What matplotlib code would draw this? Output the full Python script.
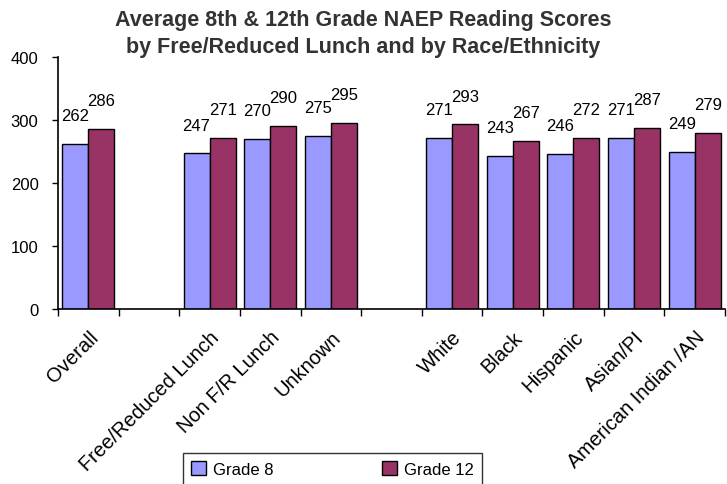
import numpy as np
import matplotlib
matplotlib.use("Agg")
import matplotlib.pyplot as plt
from matplotlib.patches import Patch

plt.rcParams['font.family'] = ['Liberation Sans', 'DejaVu Sans']

# ---- data ----
categories = ["Overall", "", "Free/Reduced Lunch", "Non F/R Lunch", "Unknown", "",
              "White", "Black", "Hispanic", "Asian/PI", "American Indian /AN"]
grade8 = [262, np.nan, 247, 270, 275, np.nan, 271, 243, 246, 271, 249]
grade12 = [286, np.nan, 271, 290, 295, np.nan, 293, 267, 272, 287, 279]
series_names = ["Grade 8", "Grade 12"]
yticks = [0, 100, 200, 300, 400]
title = "Average 8th & 12th Grade NAEP Reading Scores\nby Free/Reduced Lunch and by Race/Ethnicity"

c8 = "#9999FF"
c12 = "#993366"

fig = plt.figure(figsize=(7.27, 4.85), dpi=100)
ax = fig.add_axes([58/727, 1-310/485, (725-58)/727, (310-58)/485])

x = np.arange(len(categories))
w = 0.43
b8 = ax.bar(x - w/2, grade8, width=w, color=c8, edgecolor="#000000", linewidth=1.0)
b12 = ax.bar(x + w/2, grade12, width=w, color=c12, edgecolor="#000000", linewidth=1.0)

for bars, vals in ((b8, grade8), (b12, grade12)):
    for rect, v in zip(bars, vals):
        if np.isnan(v):
            continue
        ax.annotate(f"{int(v)}", (rect.get_x() + rect.get_width()/2, v),
                    xytext=(0, 15), textcoords="offset points",
                    ha="center", va="bottom", fontsize=12, color="black")

ax.set_xlim(-0.5, len(categories) - 0.5)
ax.set_ylim(0, 400)
ax.set_yticks(yticks)
ax.tick_params(axis="y", direction="out", length=4, width=1, labelsize=12, pad=10)

ax.set_xticks(x)
ax.set_xticklabels(categories, rotation=45, ha="right", va="top",
                   rotation_mode="anchor", fontsize=14.5)
ax.tick_params(axis="x", which="major", length=0, pad=13)
ax.set_xticks(np.arange(len(categories) + 1) - 0.5, minor=True)
ax.tick_params(axis="x", which="minor", direction="out", length=5, width=1)

for s in ("top", "right"):
    ax.spines[s].set_visible(False)
for s in ("left", "bottom"):
    ax.spines[s].set_linewidth(1.2)
    ax.spines[s].set_color("black")

fig.text(0.5, 1 - 34/485, title, ha="center", va="center", fontsize=15.5,
         fontweight="bold", color="#333333", linespacing=1.35)

handles = [Patch(facecolor=c8, edgecolor="black", label=series_names[0]),
           Patch(facecolor=c12, edgecolor="black", label=series_names[1])]
leg = fig.legend(handles=handles, loc="upper left", ncol=2,
                 bbox_to_anchor=(183/727, 1-454/485, 299/727, 0), mode="expand",
                 fontsize=12, frameon=True, fancybox=False, handlelength=0.9,
                 handleheight=0.9, borderpad=0.5, handletextpad=0.4,
                 columnspacing=3.0, borderaxespad=0)
leg.get_frame().set_edgecolor("black")
leg.get_frame().set_linewidth(1.0)

fig.savefig("out.png", dpi=100, facecolor="white")
